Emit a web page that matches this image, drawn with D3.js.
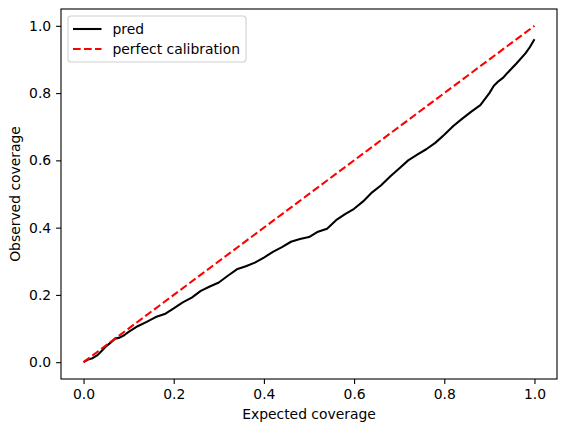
<!DOCTYPE html>
<html>
<head>
<meta charset="utf-8">
<script src="https://cdn.jsdelivr.net/npm/d3@7"></script>
<style>
  body { margin: 0; background: white; }
  text { font-family: "DejaVu Sans", sans-serif; }
</style>
</head>
<body>
<div id="chart"></div>
<script>
// expected coverage (x) and observed coverage (y) for the "pred" curve
const expected = [0, 0.01, 0.02, 0.03, 0.04, 0.05, 0.06, 0.07, 0.08, 0.09, 0.10,
  0.12, 0.14, 0.16, 0.18, 0.20, 0.22, 0.24, 0.26, 0.28, 0.30, 0.32, 0.34, 0.36,
  0.38, 0.40, 0.42, 0.44, 0.46, 0.48, 0.50, 0.52, 0.54, 0.56, 0.58, 0.60, 0.62,
  0.64, 0.66, 0.68, 0.70, 0.72, 0.74, 0.76, 0.78, 0.80, 0.82, 0.84, 0.86, 0.88,
  0.90, 0.91, 0.92, 0.93, 0.94, 0.96, 0.98, 0.99, 1.00];
const observed = [0, 0.008, 0.012, 0.020, 0.033, 0.047, 0.058, 0.070, 0.073, 0.080, 0.090,
  0.107, 0.120, 0.134, 0.143, 0.160, 0.178, 0.192, 0.212, 0.225, 0.237, 0.257, 0.276, 0.285,
  0.296, 0.311, 0.328, 0.342, 0.358, 0.366, 0.372, 0.388, 0.397, 0.422, 0.440, 0.456, 0.478,
  0.505, 0.526, 0.552, 0.576, 0.600, 0.617, 0.633, 0.652, 0.676, 0.702, 0.724, 0.745, 0.764,
  0.800, 0.822, 0.835, 0.845, 0.860, 0.888, 0.918, 0.937, 0.960];
const perfect = [0, 1];
const ticks = [0, 0.2, 0.4, 0.6, 0.8, 1.0];
const legendLabels = ["pred", "perfect calibration"];

const W = 567, H = 432;
const margin = { top: 9, right: 10, bottom: 53, left: 61 };
const width = W - margin.left - margin.right;
const height = H - margin.top - margin.bottom;

const svg = d3.select("#chart").append("svg")
  .attr("width", W).attr("height", H);
const g = svg.append("g")
  .attr("transform", `translate(${margin.left},${margin.top})`);

const x = d3.scaleLinear().domain([-0.05, 1.05]).range([0, width]);
const y = d3.scaleLinear().domain([-0.05, 1.05]).range([height, 0]);

const xAxis = d3.axisBottom(x).tickValues(ticks).tickFormat(d3.format(".1f"))
  .tickSize(4.9).tickPadding(4.9);
const yAxis = d3.axisLeft(y).tickValues(ticks).tickFormat(d3.format(".1f"))
  .tickSize(4.9).tickPadding(4.9);

g.append("g").attr("class", "x-axis").attr("transform", `translate(0,${height})`).call(xAxis);
g.append("g").attr("class", "y-axis").call(yAxis);

g.selectAll(".domain").remove();
g.selectAll(".tick line").attr("stroke", "#000").attr("stroke-width", 1.1);
g.selectAll(".tick text").attr("fill", "#000").attr("font-size", "13.9px")
  .attr("font-family", "DejaVu Sans");

// plot lines
const line = d3.line().x(d => x(d[0])).y(d => y(d[1]));

g.append("path")
  .datum(expected.map((e, i) => [e, observed[i]]))
  .attr("d", line)
  .attr("fill", "none")
  .attr("stroke", "#000")
  .attr("stroke-width", 2.08)
  .attr("stroke-linejoin", "round");

g.append("path")
  .datum(perfect.map(v => [v, v]))
  .attr("d", line)
  .attr("fill", "none")
  .attr("stroke", "#ff0000")
  .attr("stroke-width", 2.08)
  .attr("stroke-dasharray", "7.7,3.3");

// frame
g.append("rect")
  .attr("width", width).attr("height", height)
  .attr("fill", "none").attr("stroke", "#000").attr("stroke-width", 1.1);

// axis labels
svg.append("text")
  .attr("x", margin.left + width / 2)
  .attr("y", 419)
  .attr("text-anchor", "middle")
  .attr("font-size", "13.9px")
  .text("Expected coverage");

svg.append("text")
  .attr("transform", `translate(20,${margin.top + height / 2}) rotate(-90)`)
  .attr("text-anchor", "middle")
  .attr("font-size", "13.9px")
  .text("Observed coverage");

// legend
const legend = g.append("g").attr("transform", "translate(7,7)");
legend.append("rect")
  .attr("width", 178).attr("height", 46)
  .attr("rx", 3).attr("ry", 3)
  .attr("fill", "white").attr("fill-opacity", 0.8)
  .attr("stroke", "#d0d0d0").attr("stroke-width", 1.1);

const styles = [
  { color: "#000", dash: null },
  { color: "#ff0000", dash: "7.7,3.3" }
];
legendLabels.forEach((lab, i) => {
  const yy = 13 + i * 20;
  legend.append("line")
    .attr("x1", 5).attr("x2", 33.5)
    .attr("y1", yy).attr("y2", yy)
    .attr("stroke", styles[i].color)
    .attr("stroke-width", 2.08)
    .attr("stroke-dasharray", styles[i].dash);
  legend.append("text")
    .attr("x", 44.5).attr("y", yy + 5)
    .attr("font-size", "13.9px")
    .text(lab);
});
</script>
</body>
</html>
